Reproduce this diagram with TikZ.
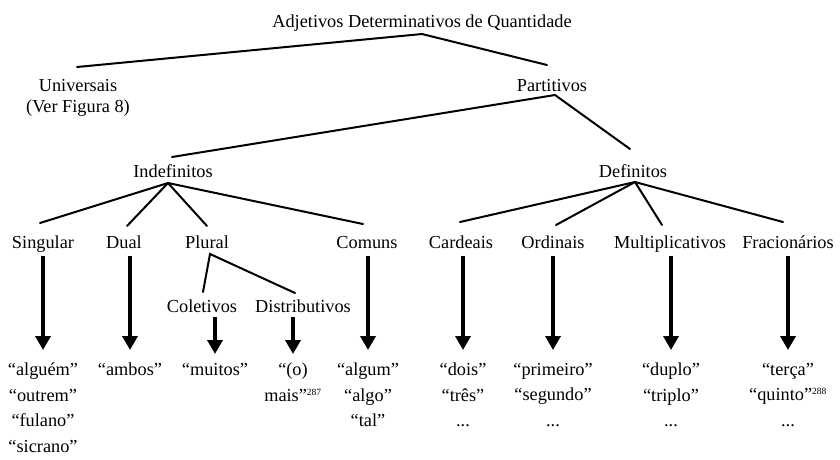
\documentclass[tikz,border=0pt]{standalone}
\usepackage{fontspec}
\setmainfont{Liberation Serif}
\usetikzlibrary{arrows.meta,calc}
\begin{document}
\begin{tikzpicture}[x=1pt,y=-1pt,
  lbl/.style={inner sep=0pt,anchor=base,font=\fontsize{18.3}{21}\selectfont},
  leaf/.style={inner sep=0pt,anchor=north,align=center,font=\fontsize{18.3}{25.5}\selectfont},
  edge/.style={line width=2pt,line cap=round},
  arr/.style={line width=4pt,-{Triangle[width=15pt,length=14pt]}}]
\useasboundingbox (0,0) rectangle (840,459);
% labels
\node[lbl] (title) at (422,27) {Adjetivos Determinativos de Quantidade};
\node[lbl,align=center] (univ) at (78,112) {Universais\\(Ver Figura 8)};
\node[lbl] (part) at (552,91) {Partitivos};
\node[lbl] (indef) at (173,177) {Indefinitos};
\node[lbl] (def) at (633,177) {Definitos};
\node[lbl] (sing) at (43,248) {Singular};
\node[lbl] (dual) at (124,248) {Dual};
\node[lbl] (plur) at (207,248) {Plural};
\node[lbl] (comu) at (367,248) {Comuns};
\node[lbl] (cole) at (202,312) {Coletivos};
\node[lbl] (dist) at (303,312) {Distributivos};
\node[lbl] (card) at (461,248) {Cardeais};
\node[lbl] (ordi) at (553,248) {Ordinais};
\node[lbl] (mult) at (670,248) {Multiplicativos};
\node[lbl] (frac) at (788,248) {Fracionários};
% leaves
\node[leaf] (l1) at (43,363) {“alguém”\\“outrem”\\“fulano”\\“sicrano”};
\node[leaf] (l2) at (130,363) {“ambos”};
\node[leaf] (l3) at (215,363) {“muitos”};
\node[leaf] (l4) at (293,363) {“(o)\\mais”\textsuperscript{\fontsize{9.5}{9.5}\selectfont 287}};
\node[leaf] (l5) at (368,363) {“algum”\\“algo”\\“tal”};
\node[leaf] (l6) at (463,363) {“dois”\\“três”\\...};
\node[leaf] (l7) at (553,363) {“primeiro”\\“segundo”\\...};
\node[leaf] (l8) at (671,363) {“duplo”\\“triplo”\\...};
\node[leaf] (l9) at (788,363) {“terça”\\“quinto”\textsuperscript{\fontsize{9.5}{9.5}\selectfont 288}\\...};
% tree edges
\draw[edge] ([xshift=-1pt,yshift=45pt]univ.base) -- ([yshift=-7pt]title.base) -- ([xshift=-5pt,yshift=26pt]part.base);
\draw[edge] ([xshift=-1pt,yshift=20pt]indef.base) -- ([xshift=3pt,yshift=-4pt]part.base) -- ([xshift=-3pt,yshift=28pt]def.base);
\draw[edge] ([xshift=-5pt,yshift=-6pt]indef.base) -- ([xshift=-3pt,yshift=25pt]sing.base);
\draw[edge] ([xshift=-5pt,yshift=-6pt]indef.base) -- ([xshift=3pt,yshift=22pt]dual.base);
\draw[edge] ([xshift=-5pt,yshift=-6pt]indef.base) -- ([xshift=0pt,yshift=22pt]plur.base);
\draw[edge] ([xshift=-5pt,yshift=-6pt]indef.base) -- ([xshift=-4pt,yshift=24pt]comu.base);
\draw[edge] ([xshift=1pt,yshift=20pt]cole.base) -- ([xshift=3pt,yshift=-6pt]plur.base) -- ([xshift=-8pt,yshift=19pt]dist.base);
\draw[edge] ([xshift=2pt,yshift=-5pt]def.base) -- ([xshift=-1pt,yshift=26pt]card.base);
\draw[edge] ([xshift=2pt,yshift=-5pt]def.base) -- ([xshift=3pt,yshift=23pt]ordi.base);
\draw[edge] ([xshift=2pt,yshift=-5pt]def.base) -- ([xshift=-8pt,yshift=23pt]mult.base);
\draw[edge] ([xshift=2pt,yshift=-5pt]def.base) -- ([xshift=-5pt,yshift=26pt]frac.base);
% arrows
\draw[arr] ($(sing.base -| l1.north)+(0,-8pt)$) -- ([yshift=13pt]l1.north);
\draw[arr] ($(dual.base -| l2.north)+(0,-8pt)$) -- ([yshift=13pt]l2.north);
\draw[arr] ($(cole.base -| l3.north)+(0,-5pt)$) -- ([yshift=9pt]l3.north);
\draw[arr] ($(dist.base -| l4.north)+(0,-5pt)$) -- ([yshift=9pt]l4.north);
\draw[arr] ($(comu.base -| l5.north)+(0,-8pt)$) -- ([yshift=13pt]l5.north);
\draw[arr] ($(card.base -| l6.north)+(0,-8pt)$) -- ([yshift=13pt]l6.north);
\draw[arr] ($(ordi.base -| l7.north)+(0,-8pt)$) -- ([yshift=13pt]l7.north);
\draw[arr] ($(mult.base -| l8.north)+(0,-8pt)$) -- ([yshift=13pt]l8.north);
\draw[arr] ($(frac.base -| l9.north)+(0,-8pt)$) -- ([yshift=13pt]l9.north);
\end{tikzpicture}
\end{document}
